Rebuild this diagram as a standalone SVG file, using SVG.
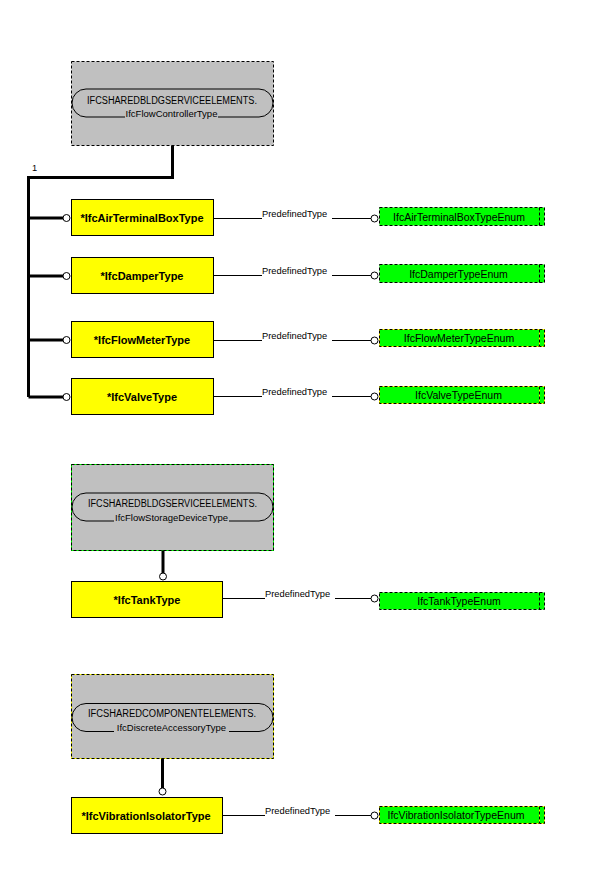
<svg xmlns="http://www.w3.org/2000/svg" width="600" height="888" viewBox="0 0 600 888">
<style>
  .bg{fill:#ffffff}
  .gray{fill:#c0c0c0;stroke:none}
  .dash{fill:none;stroke:#000;stroke-width:1;stroke-dasharray:3,2}
  .ubg-g{fill:none;stroke:#00ff00;stroke-width:1}
  .ubg-y{fill:none;stroke:#ffff00;stroke-width:1}
  .pill{fill:none;stroke:#000;stroke-width:1}
  .ytype{fill:#ffff00;stroke:#000;stroke-width:1}
  .enum{fill:#00ff00;stroke:none}
  .thick{fill:none;stroke:#000;stroke-width:3}
  .thin{fill:none;stroke:#000;stroke-width:1}
  .circ{fill:#fff;stroke:#000;stroke-width:1}
  .t1{font-family:"Liberation Sans",Arial,sans-serif;font-size:10px;fill:#000;text-anchor:middle}
  .t2{font-family:"Liberation Sans",Arial,sans-serif;font-size:9.5px;fill:#000;text-anchor:middle}
  .tb{font-family:"Liberation Sans",Arial,sans-serif;font-size:11px;font-weight:bold;fill:#000;text-anchor:middle}
  .te{font-family:"Liberation Sans",Arial,sans-serif;font-size:10.5px;fill:#000;text-anchor:middle}
  .tl{font-family:"Liberation Sans",Arial,sans-serif;font-size:9.3px;fill:#000}
</style>
<rect class="bg" x="0" y="0" width="600" height="888"/>

<!-- Select-type nodes (gray) -->
<g id="IfcFlowControllerType">
  <rect class="gray" x="71.5" y="61.5" width="202" height="84"/>
  <rect class="dash" x="71.5" y="61.5" width="202" height="84"/>
  <path class="pill" d="M125 117 H86 A14 14 0 0 1 86 89 H259 A14 14 0 0 1 259 117 H218"/>
  <text class="t1" x="172" y="103.5" textLength="170" lengthAdjust="spacingAndGlyphs">IFCSHAREDBLDGSERVICEELEMENTS.</text>
  <text class="t2" x="171.5" y="116.5">IfcFlowControllerType</text>
</g>

<g id="IfcFlowStorageDeviceType">
  <rect class="gray" x="71.5" y="464.5" width="202" height="86"/>
  <rect class="ubg-g" x="71.5" y="464.5" width="202" height="86"/>
  <rect class="dash" x="71.5" y="464.5" width="202" height="86"/>
  <path class="pill" d="M114 521 H86 A14 14 0 0 1 86 493 H259 A14 14 0 0 1 259 521 H229"/>
  <text class="t1" x="172.5" y="506.5" textLength="169" lengthAdjust="spacingAndGlyphs">IFCSHAREDBLDGSERVICEELEMENTS.</text>
  <text class="t2" x="171.5" y="520.5">IfcFlowStorageDeviceType</text>
</g>

<g id="IfcDiscreteAccessoryType">
  <rect class="gray" x="71.5" y="674.5" width="202" height="84"/>
  <rect class="ubg-y" x="71.5" y="674.5" width="202" height="84"/>
  <rect class="dash" x="71.5" y="674.5" width="202" height="84"/>
  <path class="pill" d="M114 731.5 H86 A14 14 0 0 1 86 703.5 H259 A14 14 0 0 1 259 731.5 H229"/>
  <text class="t1" x="172" y="716.5" textLength="168" lengthAdjust="spacingAndGlyphs">IFCSHAREDCOMPONENTELEMENTS.</text>
  <text class="t2" x="171.5" y="731">IfcDiscreteAccessoryType</text>
</g>

<!-- Entity nodes (yellow) -->
<g id="IfcAirTerminalBoxType">
  <rect class="ytype" x="71.5" y="199.5" width="142" height="36"/>
  <text class="tb" x="142" y="222">*IfcAirTerminalBoxType</text>
</g>
<g id="IfcDamperType">
  <rect class="ytype" x="71.5" y="257.5" width="142" height="36"/>
  <text class="tb" x="142" y="280">*IfcDamperType</text>
</g>
<g id="IfcFlowMeterType">
  <rect class="ytype" x="71.5" y="321.5" width="142" height="36"/>
  <text class="tb" x="142" y="344">*IfcFlowMeterType</text>
</g>
<g id="IfcValveType">
  <rect class="ytype" x="71.5" y="378.5" width="142" height="36"/>
  <text class="tb" x="142" y="401">*IfcValveType</text>
</g>
<g id="IfcTankType">
  <rect class="ytype" x="71.5" y="581.5" width="151" height="36"/>
  <text class="tb" x="147" y="604">*IfcTankType</text>
</g>
<g id="IfcVibrationIsolatorType">
  <rect class="ytype" x="71.5" y="797.5" width="151" height="36"/>
  <text class="tb" x="146" y="820">*IfcVibrationIsolatorType</text>
</g>

<!-- Enumeration nodes (green) -->
<g id="IfcAirTerminalBoxTypeEnum">
  <rect class="enum" x="379.5" y="207.5" width="165" height="18"/>
  <rect class="dash" x="379.5" y="207.5" width="165" height="18"/>
  <line class="dash" x1="539.5" y1="207.5" x2="539.5" y2="225.5"/>
  <text class="te" x="459" y="220.5">IfcAirTerminalBoxTypeEnum</text>
</g>
<g id="IfcDamperTypeEnum">
  <rect class="enum" x="379.5" y="264.5" width="165" height="18"/>
  <rect class="dash" x="379.5" y="264.5" width="165" height="18"/>
  <line class="dash" x1="539.5" y1="264.5" x2="539.5" y2="282.5"/>
  <text class="te" x="458.5" y="277.5">IfcDamperTypeEnum</text>
</g>
<g id="IfcFlowMeterTypeEnum">
  <rect class="enum" x="379.5" y="329.5" width="165" height="17"/>
  <rect class="ubg-y" x="379.5" y="329.5" width="165" height="17"/>
  <rect class="dash" x="379.5" y="329.5" width="165" height="17"/>
  <line class="ubg-y" x1="539.5" y1="329.5" x2="539.5" y2="346.5"/>
  <line class="dash" x1="539.5" y1="329.5" x2="539.5" y2="346.5"/>
  <text class="te" x="459" y="342">IfcFlowMeterTypeEnum</text>
</g>
<g id="IfcValveTypeEnum">
  <rect class="enum" x="379.5" y="386.5" width="165" height="17"/>
  <rect class="ubg-y" x="379.5" y="386.5" width="165" height="17"/>
  <rect class="dash" x="379.5" y="386.5" width="165" height="17"/>
  <line class="ubg-y" x1="539.5" y1="386.5" x2="539.5" y2="403.5"/>
  <line class="dash" x1="539.5" y1="386.5" x2="539.5" y2="403.5"/>
  <text class="te" x="458.5" y="399">IfcValveTypeEnum</text>
</g>
<g id="IfcTankTypeEnum">
  <rect class="enum" x="379.5" y="592.5" width="165" height="17"/>
  <rect class="dash" x="379.5" y="592.5" width="165" height="17"/>
  <line class="dash" x1="539.5" y1="592.5" x2="539.5" y2="609.5"/>
  <text class="te" x="459" y="605">IfcTankTypeEnum</text>
</g>
<g id="IfcVibrationIsolatorTypeEnum">
  <rect class="enum" x="379.5" y="806.5" width="165" height="17"/>
  <rect class="ubg-y" x="379.5" y="806.5" width="165" height="17"/>
  <rect class="dash" x="379.5" y="806.5" width="165" height="17"/>
  <line class="ubg-y" x1="539.5" y1="806.5" x2="539.5" y2="823.5"/>
  <line class="dash" x1="539.5" y1="806.5" x2="539.5" y2="823.5"/>
  <text class="te" x="456" y="819">IfcVibrationIsolatorTypeEnum</text>
</g>

<!-- Connectors -->
<g id="connectors">
  <!-- supertype tree: IfcFlowControllerType -->
  <path class="thick" d="M172.5 145.5 V177.5 H28.5 V397"/>
  <line class="thick" x1="28.5" y1="218" x2="63" y2="218"/>
  <line class="thick" x1="28.5" y1="276" x2="63" y2="276"/>
  <line class="thick" x1="28.5" y1="340" x2="63" y2="340"/>
  <line class="thick" x1="28.5" y1="397" x2="63" y2="397"/>
  <circle class="circ" cx="66.5" cy="218" r="3.5"/>
  <circle class="circ" cx="66.5" cy="276" r="3.5"/>
  <circle class="circ" cx="66.5" cy="340" r="3.5"/>
  <circle class="circ" cx="66.5" cy="397" r="3.5"/>
  <text class="tl" x="32" y="171">1</text>

  <!-- IfcFlowStorageDeviceType -> IfcTankType -->
  <line class="thick" x1="163" y1="550.5" x2="163" y2="573"/>
  <circle class="circ" cx="163" cy="576.5" r="3.5"/>

  <!-- IfcDiscreteAccessoryType -> IfcVibrationIsolatorType -->
  <line class="thick" x1="162.5" y1="758.5" x2="162.5" y2="788"/>
  <circle class="circ" cx="162.5" cy="791.5" r="3.5"/>

  <!-- PredefinedType attributes -->
  <path class="thin" d="M213.5 218.5 H262 M332 218.5 H371"/>
  <circle class="circ" cx="374.5" cy="218.5" r="3.5"/>
  <text class="tl" x="262" y="216.5">PredefinedType</text>

  <path class="thin" d="M213.5 275.5 H262 M332 275.5 H371"/>
  <circle class="circ" cx="374.5" cy="275.5" r="3.5"/>
  <text class="tl" x="262" y="273.5">PredefinedType</text>

  <path class="thin" d="M213.5 340.5 H262 M332 340.5 H371"/>
  <circle class="circ" cx="374.5" cy="340.5" r="3.5"/>
  <text class="tl" x="262" y="338.5">PredefinedType</text>

  <path class="thin" d="M213.5 396.5 H262 M332 396.5 H371"/>
  <circle class="circ" cx="374.5" cy="396.5" r="3.5"/>
  <text class="tl" x="262" y="394.5">PredefinedType</text>

  <path class="thin" d="M222.5 598.5 H265 M335 598.5 H371"/>
  <circle class="circ" cx="374.5" cy="598.5" r="3.5"/>
  <text class="tl" x="265" y="596.5">PredefinedType</text>

  <path class="thin" d="M222.5 815.5 H265 M335 815.5 H371"/>
  <circle class="circ" cx="374.5" cy="815.5" r="3.5"/>
  <text class="tl" x="265" y="813.5">PredefinedType</text>
</g>
</svg>
